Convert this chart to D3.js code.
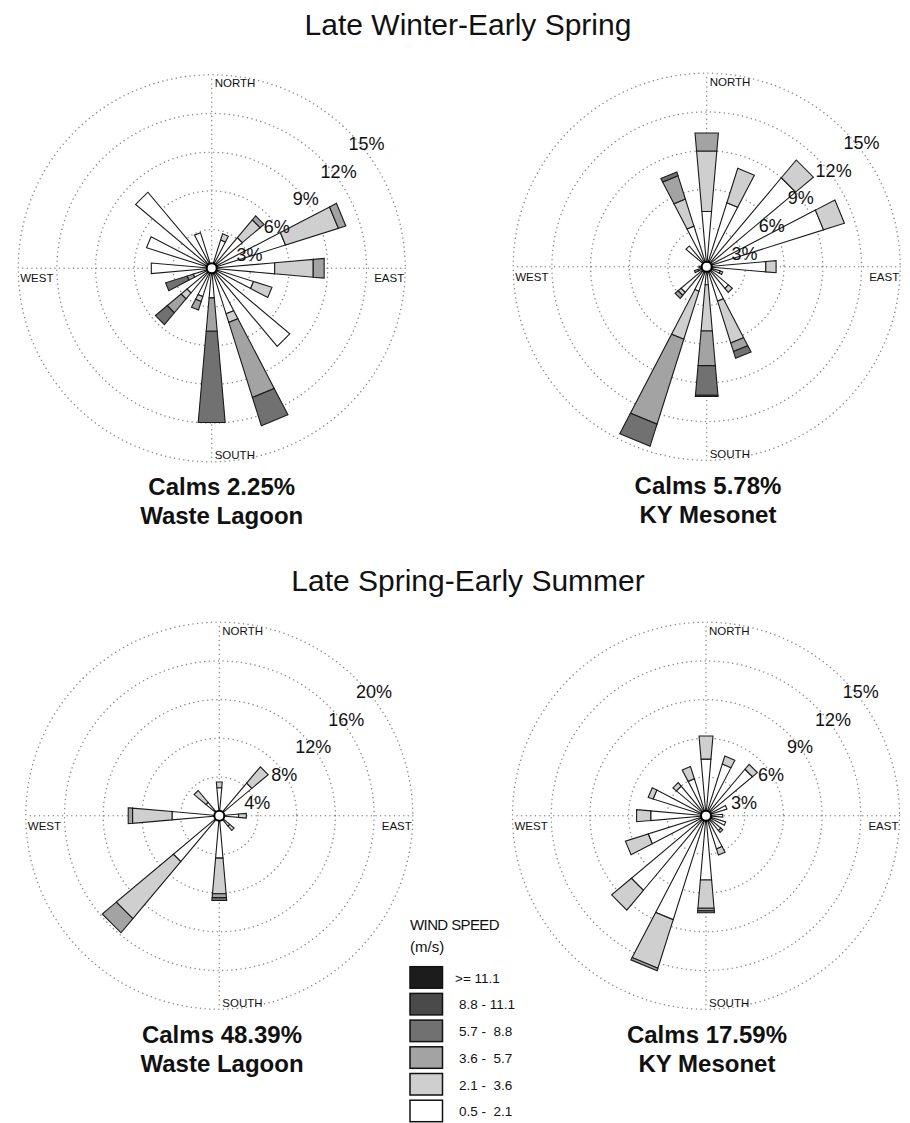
<!DOCTYPE html>
<html><head><meta charset="utf-8">
<script src="https://cdn.jsdelivr.net/npm/d3@7"></script>
<style>
body{margin:0;background:#fff}
svg{display:block}
text{font-family:Arial,"Liberation Sans",Helvetica,sans-serif;fill:#111}
</style>
</head><body>
<svg id="chart" width="910" height="1123"></svg>
<script>
// ---------- DATA ----------
const directions = ["N","NNE","NE","ENE","E","ESE","SE","SSE","S","SSW","SW","WSW","W","WNW","NW","NNW"];
const speedLabels = ["0.5 -  2.1","2.1 -  3.6","3.6 -  5.7","5.7 -  8.8","8.8 - 11.1",">= 11.1"];
const speedColors = ["#ffffff","#cfcfcf","#a3a3a3","#717171","#4a4a4a","#1c1c1c"];
const legendTitle = ["WIND SPEED","(m/s)"];
const seasonTitles = ["Late Winter-Early Spring","Late Spring-Early Summer"];
const ringTicks15 = [3,6,9,12,15];
const ringTicks20 = [4,8,12,16,20];

// rows follow `directions`, columns follow `speedLabels` (percent of time)
const wasteLagoonWinter = [
  [0,0,0,0,0,0],
  [2.3,0.5,0,0,0,0],
  [3.1,1.8,0.4,0,0,0],
  [6.0,4.3,0.6,0,0,0],
  [4.9,3.0,0.85,0,0,0],
  [3.4,1.5,0,0,0,0],
  [7.9,0,0,0,0,0],
  [3.7,0.7,6.1,2.3,0,0],
  [2.3,0,2.6,7.1,0,0],
  [2.3,0.4,0.7,0,0,0],
  [2.5,0.6,1.4,1.2,0,0],
  [1.5,0,0.5,1.75,0,0],
  [4.7,0,0,0,0,0],
  [5.3,0,0,0,0,0],
  [7.7,0,0,0,0,0],
  [2.9,0,0,0,0,0]
];
const mesonetWinter = [
  [4.3,4.7,1.4,0,0,0],
  [5.2,2.8,0,0,0,0],
  [9.0,1.8,0,0,0,0],
  [9.5,1.7,0,0,0,0],
  [4.6,0.8,0,0,0,0],
  [1.1,0.2,0,0,0,0],
  [2.2,0.4,0,0,0,0],
  [2.8,3.4,0.7,0.55,0,0],
  [1.4,3.6,2.7,2.3,0.1,0],
  [2.0,3.9,6.9,1.8,0,0],
  [2.6,0.3,0.3,0,0,0],
  [0.7,0,0.3,0,0,0],
  [0.6,0,0,0,0,0],
  [0,0,0,0,0,0],
  [2.1,0,0,0,0,0],
  [3.3,2.2,1.9,0.3,0,0]
];
const wasteLagoonSummer = [
  [2.9,0.6,0,0,0,0],
  [0,0,0,0,0,0],
  [4.4,2.2,0,0,0,0],
  [0,0,0,0,0,0],
  [2.0,0.8,0,0,0,0],
  [0,0,0,0,0,0],
  [1.4,0.6,0,0,0,0],
  [0,0,0,0,0,0],
  [4.4,3.7,0.4,0.3,0,0],
  [0,0,0,0,0,0],
  [6.2,7.7,1.9,0,0,0],
  [0,0,0,0,0,0],
  [4.9,4.1,0.45,0,0,0],
  [0,0,0,0,0,0],
  [1.8,1.6,0,0,0,0],
  [0,0,0,0,0,0]
];
const mesonetSummer = [
  [4.4,1.8,0,0,0,0],
  [4.2,0.65,0,0,0,0],
  [4.7,0.5,0,0,0,0],
  [1.7,0,0,0,0,0],
  [1.3,0,0,0,0,0],
  [1.6,0,0,0,0,0],
  [1.5,0.2,0,0,0,0],
  [2.7,0.5,0,0,0,0],
  [5.0,2.2,0.2,0.15,0,0],
  [8.45,3.95,0.2,0,0,0],
  [7.55,2.0,0,0,0,0],
  [4.7,1.85,0,0,0,0],
  [4.3,1.1,0,0,0,0],
  [4.3,0.4,0,0,0,0],
  [3.0,0.35,0,0,0,0],
  [3.0,1.0,0,0,0,0]
];
const calms = ["Calms 2.25%","Calms 5.78%","Calms 48.39%","Calms 17.59%"];
const sites = ["Waste Lagoon","KY Mesonet","Waste Lagoon","KY Mesonet"];

// ---------- LAYOUT ----------
const svg = d3.select("#chart");
const STEP = 38.7;           // pixels between rings
const HALF = 5 * Math.PI/180; // half petal width
const lblDX = [0.98,1.68,2.43,3.28,4.0];
const lblDY = [-0.34,-1.06,-1.78,-2.48,-3.2];

const roses = [
  {cx:211.7, cy:268.3, data:wasteLagoonWinter, ticks:ringTicks15, capX:221.7, calm:calms[0], site:sites[0]},
  {cx:706.7, cy:266.7, data:mesonetWinter,     ticks:ringTicks15, capX:708,   calm:calms[1], site:sites[1]},
  {cx:219.3, cy:815.7, data:wasteLagoonSummer, ticks:ringTicks20, capX:222,   calm:calms[2], site:sites[2]},
  {cx:706.0, cy:815.7, data:mesonetSummer,     ticks:ringTicks15, capX:707,   calm:calms[3], site:sites[3]}
];

// titles
svg.append("text").attr("x",468).attr("y",35).attr("text-anchor","middle")
  .style("font-size","30px").text(seasonTitles[0]);
svg.append("text").attr("x",468).attr("y",591).attr("text-anchor","middle")
  .style("font-size","30px").text(seasonTitles[1]);

const angle = d3.scaleBand().domain(directions).range([0, 2*Math.PI]).align(0);
function pt(cx, cy, r, a){ return [cx + r*Math.sin(a), cy - r*Math.cos(a)]; }

roses.forEach(rs => {
  const g = svg.append("g");
  const R = d3.scaleLinear().domain([0, rs.ticks[rs.ticks.length-1]]).range([0, STEP*rs.ticks.length]);
  const outer = R(rs.ticks[rs.ticks.length-1]);
  const dot = s => s.attr("fill","none").attr("stroke","#8c8c8c").attr("stroke-width",1.5)
      .attr("stroke-linecap","round").attr("stroke-dasharray","0.01 4.6");
  // rings
  g.selectAll("circle.ring").data(rs.ticks).join("circle").attr("class","ring")
    .attr("cx",rs.cx).attr("cy",rs.cy).attr("r",d=>R(d)).call(dot);
  // axes
  [0,90,180,270].forEach(deg=>{
    const a = deg*Math.PI/180, p = pt(rs.cx, rs.cy, outer, a);
    g.append("line").attr("x1",rs.cx).attr("y1",rs.cy).attr("x2",p[0]).attr("y2",p[1]).call(dot);
  });
  // compass labels
  const cs = "11.5px";
  g.append("text").attr("x",rs.cx+3).attr("y",rs.cy-181).style("font-size",cs).text("NORTH");
  g.append("text").attr("x",rs.cx+3).attr("y",rs.cy+191).style("font-size",cs).text("SOUTH");
  g.append("text").attr("x",rs.cx-outer+2).attr("y",rs.cy+14).style("font-size",cs).text("WEST");
  g.append("text").attr("x",rs.cx+outer-1).attr("y",rs.cy+14).attr("text-anchor","end").style("font-size",cs).text("EAST");

  // petals
  rs.data.forEach((row, i) => {
    const a = angle(directions[i]);
    const cum = [0, ...d3.cumsum(row)];
    row.forEach((v, k) => {
      if (v <= 0) return;
      const r0 = R(cum[k]), r1 = R(cum[k+1]);
      const pts = [pt(rs.cx,rs.cy,r0,a-HALF), pt(rs.cx,rs.cy,r1,a-HALF), pt(rs.cx,rs.cy,r1,a+HALF), pt(rs.cx,rs.cy,r0,a+HALF)];
      g.append("path").attr("d", d3.line()(pts) + "Z")
        .attr("fill", speedColors[k]).attr("stroke","#1a1a1a").attr("stroke-width",1.1)
        .attr("stroke-linejoin","miter");
    });
  });
  // calm circle
  g.append("circle").attr("cx",rs.cx).attr("cy",rs.cy).attr("r",5)
    .attr("fill","#fff").attr("stroke","#000").attr("stroke-width",2);

  // ring percentage labels
  rs.ticks.forEach((t, k) => {
    g.append("text").attr("x", rs.cx + lblDX[k]*STEP).attr("y", rs.cy + lblDY[k]*STEP)
      .attr("text-anchor","middle").attr("dominant-baseline","central")
      .style("font-size","18px").text(t + "%");
  });

  // captions
  g.append("text").attr("x",rs.capX).attr("y",rs.cy+227).attr("text-anchor","middle")
    .style("font-size","24px").style("font-weight","bold").text(rs.calm);
  g.append("text").attr("x",rs.capX).attr("y",rs.cy+256).attr("text-anchor","middle")
    .style("font-size","24px").style("font-weight","bold").text(rs.site);
});

// legend
const lg = svg.append("g");
lg.append("text").attr("x",410).attr("y",930).style("font-size","15px").style("letter-spacing","-0.6px").text(legendTitle[0]);
lg.append("text").attr("x",410).attr("y",952).style("font-size","15px").text(legendTitle[1]);
const legendOrder = d3.range(speedLabels.length).reverse();
const ly = d3.scaleBand().domain(legendOrder).range([966.7, 966.7 + 26.7*6]);
legendOrder.forEach(k => {
  lg.append("rect").attr("x",410).attr("y",ly(k)).attr("width",32.5).attr("height",21.5)
    .attr("fill",speedColors[k]).attr("stroke","#111").attr("stroke-width",1.5);
  lg.append("text").attr("x", k===5 ? 455 : 459).attr("y",ly(k)+16)
    .style("font-size","13.5px").style("white-space","pre").text(speedLabels[k]);
});
</script>
</body></html>
